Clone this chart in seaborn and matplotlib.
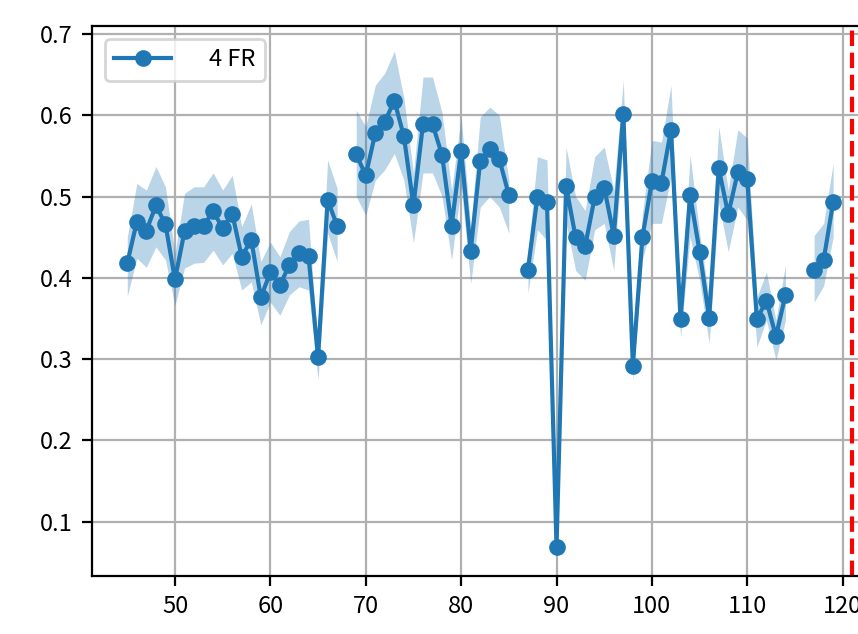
import numpy as np
import pandas as pd
import matplotlib
matplotlib.use("Agg")
import matplotlib.pyplot as plt
import seaborn as sns

plt.rcParams['font.family'] = ['Noto Sans CJK JP', 'DejaVu Sans']
plt.rcParams['font.size'] = 8.5

nan = np.nan

# x positions (missing ones are NaN in the series)
x_vals = list(range(45, 120))

mean_vals = [
    0.418, 0.469, 0.458, 0.489, 0.466, 0.398, 0.457, 0.464, 0.464, 0.482,  # 45-54
    0.461, 0.479, 0.426, 0.447, 0.376, 0.407, 0.391, 0.416, 0.431, 0.427,  # 55-64
    0.302, 0.496, 0.464, nan,   0.552, 0.526, 0.578, 0.592, 0.618, 0.574,  # 65-74
    0.489, 0.589, 0.589, 0.551, 0.464, 0.556, 0.433, 0.544, 0.558, 0.546,  # 75-84
    0.502, nan,   0.410, 0.500, 0.493, 0.069, 0.513, 0.450, 0.439, 0.499,  # 85-94
    0.511, 0.452, 0.602, 0.292, 0.450, 0.519, 0.517, 0.582, 0.349, 0.502,  # 95-104
    0.432, 0.351, 0.535, 0.478, 0.530, 0.521, 0.349, 0.372, 0.328, 0.379,  # 105-114
    nan,   nan,   0.410, 0.422, 0.493,                                      # 115-119
]

lower_vals = [
    0.377, 0.424, 0.413, 0.438, 0.422, 0.366, 0.412, 0.418, 0.419, 0.434,
    0.416, 0.430, 0.385, 0.395, 0.342, 0.370, 0.354, 0.379, 0.389, 0.385,
    0.274, 0.455, 0.420, nan,   0.500, 0.477, 0.520, 0.533, 0.553, 0.520,
    0.443, 0.529, 0.529, 0.500, 0.422, 0.512, 0.393, 0.487, 0.500, 0.487,
    0.455, nan,   0.381, 0.459, 0.446, 0.064, 0.467, 0.409, 0.397, 0.459,
    0.467, 0.409, 0.569, 0.274, 0.422, 0.467, 0.467, 0.524, 0.327, 0.450,
    0.397, 0.319, 0.492, 0.432, 0.487, 0.471, 0.315, 0.348, 0.299, 0.348,
    nan,   nan,   0.370, 0.390, 0.450,
]

upper_vals = [
    0.450, 0.516, 0.508, 0.537, 0.512, 0.430, 0.504, 0.512, 0.512, 0.529,
    0.508, 0.526, 0.463, 0.491, 0.420, 0.444, 0.426, 0.457, 0.470, 0.472,
    0.311, 0.545, 0.510, nan,   0.606, 0.586, 0.637, 0.652, 0.679, 0.621,
    0.529, 0.647, 0.647, 0.603, 0.508, 0.598, 0.463, 0.598, 0.610, 0.600,
    0.520, nan,   0.430, 0.549, 0.545, 0.076, 0.561, 0.500, 0.483, 0.549,
    0.561, 0.508, 0.643, 0.303, 0.479, 0.569, 0.567, 0.637, 0.364, 0.551,
    0.455, 0.376, 0.586, 0.508, 0.582, 0.572, 0.376, 0.407, 0.348, 0.416,
    nan,   nan,   0.452, 0.467, 0.541,
]

vline_x = 121
label = "4 FR"

df = pd.DataFrame({"x": x_vals, "y": mean_vals, "lo": lower_vals, "hi": upper_vals})
# split into contiguous runs so gaps stay open
df["seg"] = df["y"].isna().cumsum()
df = df.dropna()

fig = plt.figure(figsize=(4.29, 3.17), dpi=200)
ax = fig.add_axes([0.1072, 0.0915, 0.905, 0.8675])

color = "#1f77b4"
for i, (seg, part) in enumerate(df.groupby("seg")):
    sns.lineplot(data=part, x="x", y="y", marker="o", color=color,
                 linewidth=1.5, markersize=6, markeredgewidth=0,
                 label=label if i == 0 else None, legend=False, ax=ax)
    ax.fill_between(part["x"], part["lo"], part["hi"], color=color,
                    alpha=0.3, linewidth=0)

ax.axvline(vline_x, color="red", linestyle="--", linewidth=1.5)

ax.set_xlim(41.3, 122.7)
ax.set_ylim(0.0332, 0.7098)
ax.set_xticks(range(50, 130, 10))
ax.set_yticks(np.arange(0.1, 0.71, 0.1))
ax.grid(True)
ax.set_axisbelow(True)
ax.set_xlabel("")
ax.set_ylabel("")

ax.legend(loc="upper left", handlelength=2.4, handletextpad=1.6,
          borderaxespad=0.55)

fig.savefig("out.png", dpi=200)
